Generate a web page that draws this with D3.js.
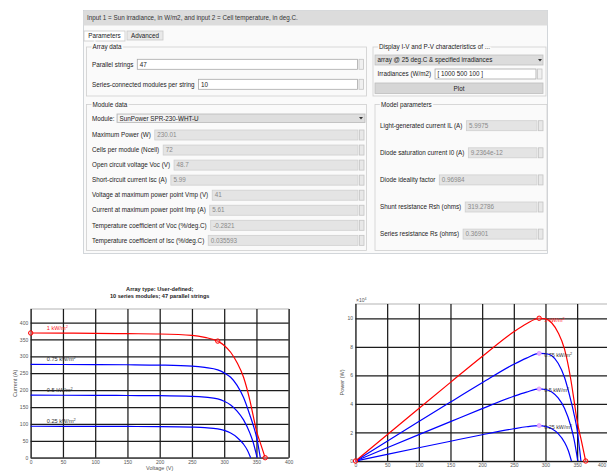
<!DOCTYPE html>
<html>
<head>
<meta charset="utf-8">
<script src="https://cdn.jsdelivr.net/npm/d3@7"></script>
<style>
body { margin: 0; background: #fff; }
text { font-family: "Liberation Sans", Arial, sans-serif; }
</style>
</head>
<body>
<svg id="c" width="607" height="471"></svg>
<script>
// ---- chart data ----
const voltsRed = [0, 50, 100, 150, 200, 250, 270, 290, 300, 310, 320, 330, 340, 345, 350, 357, 363.5];
const ampsRed = [369, 368.5, 368, 367, 366, 362, 356, 345, 332, 312, 281, 238, 168, 124, 80, 38, 0];
const powerRed = [0, 1.84, 3.68, 5.51, 7.32, 9.05, 9.61, 10.0, 9.96, 9.67, 8.99, 7.85, 5.71, 4.28, 2.8, 1.36, 0];

const volts075 = [0, 50, 100, 150, 200, 250, 270, 290, 300, 310, 320, 330, 340, 345, 350, 356];
const amps075 = [276, 275.8, 275.5, 275, 274, 271, 267, 260, 251, 238, 214, 178, 125, 96, 62, 0];
const power075 = [0, 1.38, 2.76, 4.13, 5.48, 6.78, 7.21, 7.54, 7.53, 7.38, 6.85, 5.87, 4.25, 3.31, 2.17, 0];

const volts050 = [0, 50, 100, 150, 200, 250, 270, 290, 300, 310, 320, 330, 340, 345, 351];
const amps050 = [185, 184.8, 184.5, 184, 183.5, 181.5, 179, 174, 167, 156, 138, 112, 72, 45, 0];
const power050 = [0, 0.924, 1.845, 2.76, 3.67, 4.54, 4.83, 5.05, 5.01, 4.84, 4.42, 3.7, 2.45, 1.55, 0];

const volts025 = [0, 50, 100, 150, 200, 250, 270, 290, 300, 310, 320, 330, 336, 341];
const amps025 = [93, 92.9, 92.7, 92.4, 92, 90.5, 89, 85.5, 81, 73, 60, 40, 22, 0];
const power025 = [0, 0.465, 0.927, 1.386, 1.84, 2.26, 2.4, 2.48, 2.43, 2.26, 1.92, 1.32, 0.74, 0];

const seriesNames = ["1 kW/m", "0.75 kW/m", "0.5 kW/m", "0.25 kW/m"];
const voltTicks = [0, 50, 100, 150, 200, 250, 300, 350, 400];
const ampTicks = [0, 50, 100, 150, 200, 250, 300, 350, 400];
const powerTicks = [0, 2, 4, 6, 8, 10];

const titleLines = ["Array type: User-defined;", "10 series modules; 47 parallel strings"];

// ---- dialog texts ----
const headerText = "Input 1 = Sun irradiance, in W/m2, and input 2 = Cell temperature, in deg.C.";
const tabNames = ["Parameters", "Advanced"];
const arrayLabels = ["Parallel strings", "Series-connected modules per string"];
const arrayValues = ["47", "10"];
const moduleName = "SunPower SPR-230-WHT-U";
const moduleLabels = ["Maximum Power (W)", "Cells per module (Ncell)", "Open circuit voltage  Voc (V)",
  "Short-circuit current Isc (A)", "Voltage at maximum power point Vmp (V)",
  "Current at maximum power point Imp (A)", "Temperature coefficient of Voc (%/deg.C)",
  "Temperature coefficient of Isc (%/deg.C)"];
const moduleValues = ["230.01", "72", "48.7", "5.99", "41", "5.61", "-0.2821", "0.035593"];
const modelLabels = ["Light-generated current IL (A)", "Diode saturation current I0 (A)",
  "Diode ideality factor", "Shunt resistance Rsh (ohms)", "Series resistance Rs (ohms)"];
const modelValues = ["5.9975", "9.2364e-12", "0.96984", "319.2786", "0.36901"];

const series = [
  { name: seriesNames[0], v: voltsRed, i: ampsRed, p: powerRed, color: "#ff0000", text: "#ff2020" },
  { name: seriesNames[1], v: volts075, i: amps075, p: power075, color: "#0000ff", text: "#333" },
  { name: seriesNames[2], v: volts050, i: amps050, p: power050, color: "#0000ff", text: "#333" },
  { name: seriesNames[3], v: volts025, i: amps025, p: power025, color: "#0000ff", text: "#333" }
];

const svg = d3.select("#c");

// ================= dialog =================
const dlg = svg.append("g");
const fs = 6.3;

function rect(x, y, w, h, fill, stroke) {
  return dlg.append("rect").attr("x", x).attr("y", y).attr("width", w).attr("height", h)
    .attr("fill", fill).attr("stroke", stroke || "none").attr("stroke-width", 0.8);
}
function label(x, y, t, color, anchor) {
  return dlg.append("text").attr("x", x).attr("y", y).attr("dy", "0.35em")
    .attr("font-size", fs).attr("fill", color || "#222")
    .attr("text-anchor", anchor || "start").text(t);
}
function group(x, y, w, h, t) {
  rect(x, y, w, h, "none", "#cfcfcf");
  label(x + 6, y, t).attr("stroke", "#fafafa").attr("stroke-width", 3)
    .attr("paint-order", "stroke");
}
function field(x, y, x2, val, enabled) {
  rect(x, y - 5, x2 - x, 10, enabled ? "#fff" : "#e4e4e4", enabled ? "#a8a8a8" : "#cfcfcf");
  label(x + 2.5, y, val, enabled ? "#222" : "#8a8a8a");
  rect(x2 + 1.5, y - 5, 4.5, 10, enabled ? "#f0f0f0" : "#e8e8e8", "#c4c4c4");
}

rect(83.5, 10.5, 464, 243, "#fafafa", "#c8ccd2");
rect(83.5, 10.5, 464, 15, "#dcdcdc");
label(87, 18, headerText, "#333");

// tabs
rect(84, 31, 41, 10, "#fff", "#c8c8c8");
label(104.5, 36, tabNames[0], "#222", "middle");
rect(127, 31, 36, 9, "#e9e9e9", "#c8c8c8");
label(145, 35.8, tabNames[1], "#222", "middle");

// array data
group(86.5, 47, 280, 49, "Array data");
arrayLabels.forEach((t, k) => {
  const y = 64.3 + k * 20;
  const lab = label(92, y, t);
  const x = 92 + lab.node().getComputedTextLength() + 4;
  field(x, y, 357.5, arrayValues[k], true);
});

// display group
group(373, 47, 173, 49, "Display  I-V and P-V characteristics of ...");
rect(375, 55, 168, 10, "#dcdcdc", "#c0c0c0");
label(377.5, 60, "array @ 25 deg.C & specified irradiances", "#222");
dlg.append("path").attr("d", "M538,59 l4,0 l-2,2.5 z").attr("fill", "#333");
const irrLab = label(377.5, 74, "Irradiances (W/m2)");
const irrX = 377.5 + irrLab.node().getComputedTextLength() + 4;
field(irrX, 74, 536, "[ 1000  500  100 ]", true);
rect(375, 83, 168, 10.5, "#d6d6d6", "#bdbdbd");
label(459, 88.3, "Plot", "#222", "middle");

// module data
group(86.5, 104.5, 280, 146, "Module data");
label(92, 118.3, "Module:");
rect(117, 114, 248, 8.5, "#dedede", "#b8b8b8");
rect(118, 114.8, 60, 7, "#f4f4f4");
label(119.5, 118.3, moduleName, "#222");
dlg.append("path").attr("d", "M359,117 l4,0 l-2,2.5 z").attr("fill", "#333");
moduleLabels.forEach((t, k) => {
  const y = 135 + k * 15.05;
  const lab = label(92, y, t);
  const x = 92 + lab.node().getComputedTextLength() + 4;
  field(x, y, 358, moduleValues[k], false);
});

// model parameters
group(375, 104.5, 172, 146, "Model parameters");
modelLabels.forEach((t, k) => {
  const y = 125.7 + k * 27.1;
  const lab = label(380, y, t);
  const x = 380 + lab.node().getComputedTextLength() + 4;
  field(x, y, 537, modelValues[k], false);
});

// ================= charts =================
function drawChart(opt) {
  const g = svg.append("g");
  const x = opt.x, y = opt.y;
  const [x0, x1] = x.range();
  const [y0, y1] = y.range();

  g.append("rect").attr("x", x0).attr("y", y1).attr("width", x1 - x0).attr("height", y0 - y1)
    .attr("fill", "#fff").attr("stroke", "#a0a0a0").attr("stroke-width", 0.8);

  const gx = g.append("g").attr("transform", `translate(0,${y0})`)
    .call(d3.axisBottom(x).tickValues(voltTicks).tickSize(-(y0 - y1)).tickPadding(2.5).tickFormat(d3.format("d")));
  const gy = g.append("g").attr("transform", `translate(${x0},0)`)
    .call(d3.axisLeft(y).tickValues(opt.yTicks).tickSize(-(x1 - x0)).tickPadding(2.5).tickFormat(d3.format("d")));
  [gx, gy].forEach(a => {
    a.select(".domain").remove();
    a.selectAll("line").attr("stroke", "#1c1c1c").attr("stroke-width", 1.25);
    a.selectAll("text").attr("font-size", 5).attr("fill", "#555")
      .attr("font-family", "'Liberation Sans', Arial, sans-serif");
  });

  g.append("text").attr("transform", `translate(${opt.ylabX},${(y0 + y1) / 2}) rotate(-90)`)
    .attr("text-anchor", "middle").attr("font-size", 5.5).attr("fill", "#555").text(opt.ylabel);
  return { g, gx };
}

function kwLabel(g, px, py, s, size) {
  const t = g.append("text").attr("x", px).attr("y", py).attr("font-size", size).attr("fill", s.text);
  t.append("tspan").text(s.name);
  t.append("tspan").attr("dy", -2.2).attr("font-size", size * 0.7).text("2");
}

// ---- I-V chart ----
const xIV = d3.scaleLinear().domain([0, 400]).range([30.7, 288.7]);
const yIV = d3.scaleLinear().domain([0, 440]).range([457.7, 309]);
const gIV = drawChart({ x: xIV, y: yIV, yTicks: ampTicks, ylabel: "Current (A)", ylabX: 17 }).g;

gIV.selectAll(".title").data(titleLines).join("text")
  .attr("x", (xIV.range()[0] + xIV.range()[1]) / 2).attr("y", (d, k) => 291 + k * 7.3)
  .attr("text-anchor", "middle").attr("font-size", 5.6).attr("font-weight", "bold").attr("fill", "#222")
  .text(d => d);
gIV.append("text").attr("x", (xIV.range()[0] + xIV.range()[1]) / 2).attr("y", 470.3)
  .attr("text-anchor", "middle").attr("font-size", 5.5).attr("fill", "#555").text("Voltage (V)");

const lineIV = d3.line().x(d => xIV(d[0])).y(d => yIV(d[1])).curve(d3.curveMonotoneX);
series.slice().reverse().forEach(s => {
  gIV.append("path").attr("d", lineIV(d3.zip(s.v, s.i)))
    .attr("fill", "none").attr("stroke", s.color).attr("stroke-width", 1.2);
});
series.forEach(s => kwLabel(gIV, xIV(25), yIV(s.i[0]) - 3, s, 5.6));

const red = series[0];
const redMpp = d3.maxIndex(red.p);
const redMarks = [0, redMpp, red.v.length - 1];
gIV.selectAll(".mk").data(redMarks).join("circle")
  .attr("cx", k => xIV(red.v[k])).attr("cy", k => yIV(red.i[k])).attr("r", 2.2)
  .attr("fill", "#ffb0b0").attr("fill-opacity", 0.4).attr("stroke", "#ff0000").attr("stroke-width", 1);

// ---- P-V chart ----
const xPV = d3.scaleLinear().domain([0, 400]).range([355.5, 608.8]);
const yPV = d3.scaleLinear().domain([0, 11]).range([461, 304]);
const pv = drawChart({ x: xPV, y: yPV, yTicks: powerTicks, ylabel: "Power (W)", ylabX: 344 });
const gPV = pv.g;
// last tick label sits at the window edge: keep it fully visible
pv.gx.selectAll(".tick text").filter(d => d === 400).attr("text-anchor", "end").attr("dx", -3);
const exp = gPV.append("text").attr("x", 356).attr("y", 302.3).attr("font-size", 5).attr("fill", "#555");
exp.append("tspan").text("\u00d710");
exp.append("tspan").attr("dy", -2).attr("font-size", 3.6).text("4");

const linePV = d3.line().x(d => xPV(d[0])).y(d => yPV(d[1])).curve(d3.curveMonotoneX);
series.slice().reverse().forEach(s => {
  gPV.append("path").attr("d", linePV(d3.zip(s.v, s.p)))
    .attr("fill", "none").attr("stroke", s.color).attr("stroke-width", 1.2);
});

series.slice(1).forEach(s => {
  const k = d3.maxIndex(s.p);
  gPV.append("circle").attr("cx", xPV(s.v[k])).attr("cy", yPV(s.p[k])).attr("r", 2)
    .attr("fill", "#eab0ff").attr("stroke", "#d890ff").attr("stroke-width", 0.8);
});
gPV.selectAll(".mk").data(redMarks).join("circle")
  .attr("cx", k => xPV(red.v[k])).attr("cy", k => yPV(red.p[k])).attr("r", 2.2)
  .attr("fill", "#ffb0b0").attr("fill-opacity", 0.4).attr("stroke", "#ff0000").attr("stroke-width", 1);
series.forEach(s => {
  const k = d3.maxIndex(s.p);
  kwLabel(gPV, xPV(s.v[k]) + 5, yPV(s.p[k]) + 3.5, s, 5.4);
});
</script>
</body>
</html>
